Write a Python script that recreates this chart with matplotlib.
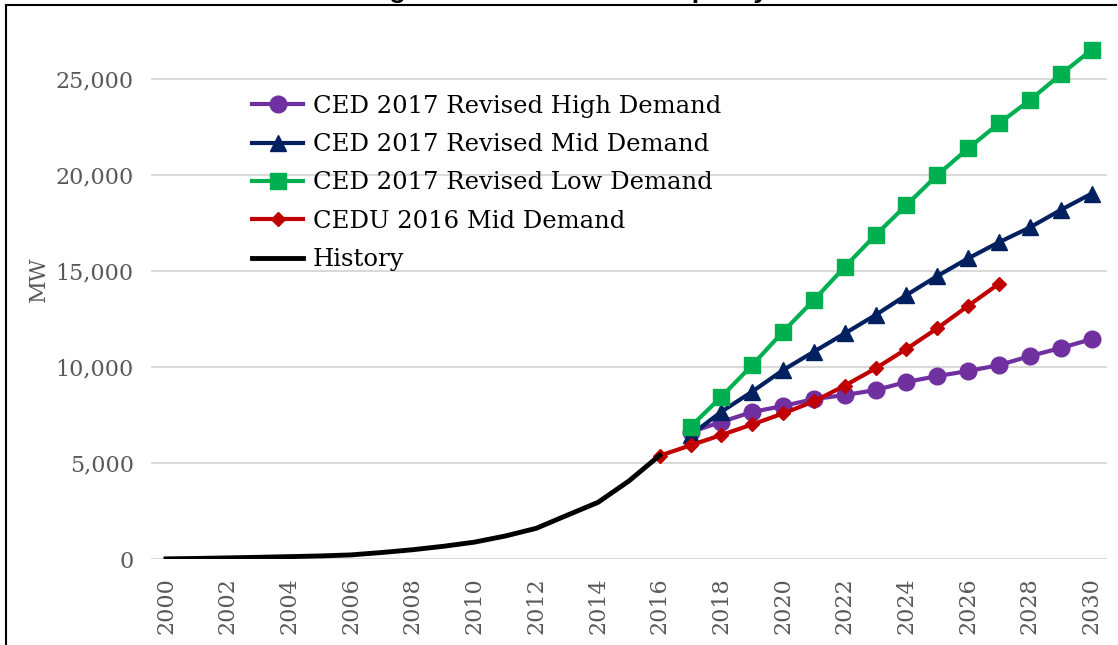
import matplotlib
matplotlib.use("Agg")
import matplotlib.pyplot as plt
from matplotlib.lines import Line2D
from matplotlib.ticker import FuncFormatter

# data (MW)
hist_years = list(range(2000, 2017))
history = [10, 30, 60, 90, 125, 160, 215, 340, 485, 665, 880, 1200, 1600, 2280, 2950, 4060, 5400]

fc_years = list(range(2017, 2031))
high = [6610, 7140, 7660, 7970, 8330, 8540, 8800, 9220, 9530, 9790, 10100, 10570, 10990, 11450]
mid = [6450, 7670, 8720, 9840, 10800, 11750, 12710, 13750, 14740, 15660, 16500, 17270, 18180, 19030]
low = [6890, 8450, 10100, 11840, 13490, 15220, 16880, 18440, 20000, 21390, 22690, 23900, 25240, 26520]

cedu_years = list(range(2016, 2028))
cedu = [5380, 5920, 6460, 7010, 7580, 8210, 9030, 9930, 10940, 12020, 13190, 14340]

labels = ["CED 2017 Revised High Demand", "CED 2017 Revised Mid Demand",
          "CED 2017 Revised Low Demand", "CEDU 2016 Mid Demand", "History"]
colors = ["#7030A0", "#002060", "#00B050", "#C00000", "#000000"]

serif = "DejaVu Serif"
gray = "#595959"

fig = plt.figure(figsize=(11.18, 6.45), dpi=100)
ax = fig.add_axes([0.1347, 0.1333, 0.8555, 0.8667])

ax.plot(fc_years, high, color=colors[0], lw=3, marker="o", ms=12, label=labels[0], zorder=3)
ax.plot(fc_years, mid, color=colors[1], lw=3, marker="^", ms=12, label=labels[1], zorder=3)
ax.plot(fc_years, low, color=colors[2], lw=3, marker="s", ms=11, label=labels[2], zorder=3)
ax.plot(cedu_years, cedu, color=colors[3], lw=3, marker="D", ms=7.5, label=labels[3], zorder=4)
ax.plot(hist_years, history, color=colors[4], lw=3.5, label=labels[4], zorder=5)

ax.set_xlim(1999.5, 2030.5)
ax.set_ylim(0, 29115)
ax.set_yticks(range(0, 30000, 5000))
ax.yaxis.set_major_formatter(FuncFormatter(lambda v, p: f"{int(v):,}"))
ax.set_xticks(range(2000, 2031, 2))
ax.grid(axis="y", color="#D9D9D9", lw=1.5, zorder=0)
ax.set_axisbelow(True)
for s in ax.spines.values():
    s.set_visible(False)
ax.tick_params(length=0, labelcolor=gray, labelsize=16)
ax.tick_params(axis="y", pad=12)
ax.tick_params(axis="x", pad=13)
for t in ax.get_xticklabels():
    t.set_rotation(90)
for t in ax.get_xticklabels() + ax.get_yticklabels():
    t.set_family(serif)
ax.set_ylabel("MW", family=serif, fontsize=16, color=gray, labelpad=4)

leg = ax.legend(loc="upper left", bbox_to_anchor=(0.2254, 0.853), bbox_transform=fig.transFigure,
                frameon=False, prop={"family": serif, "size": 17.5}, handlelength=2.1,
                handletextpad=0.4, labelspacing=0.63, borderpad=0, borderaxespad=0)

# title is cut off at the top of the image
fig.text(0.507, 1.003, "Figure 6: Statewide PV Capacity", ha="center", va="baseline",
         family="Liberation Sans", weight="bold", fontsize=19)

# outer frame
fig.add_artist(Line2D([0.005, 0.998], [0.9925, 0.9925], color="black", lw=1.5, transform=fig.transFigure))
fig.add_artist(Line2D([0.0055, 0.0055], [0, 0.9925], color="black", lw=1.5, transform=fig.transFigure))

fig.savefig("out.png", dpi=100)
